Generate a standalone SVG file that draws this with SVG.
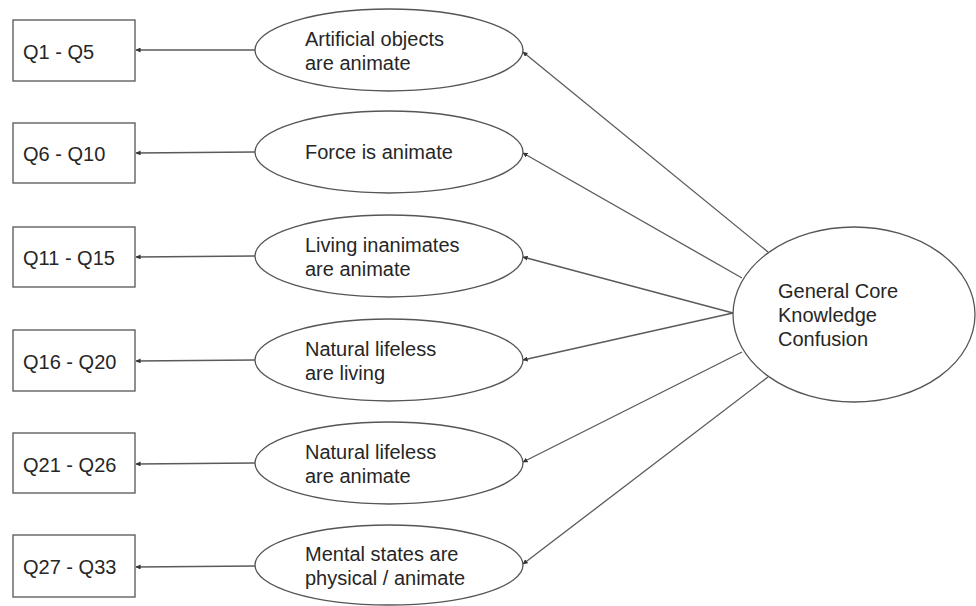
<svg xmlns="http://www.w3.org/2000/svg" width="976" height="606" viewBox="0 0 976 606">
<defs>
<marker id="ah" viewBox="0 0 6 6" refX="5.5" refY="3" markerWidth="5" markerHeight="5" markerUnits="userSpaceOnUse" orient="auto">
<path d="M0,0 L6,3 L0,6 z" fill="#333"/>
</marker>
<style>
.box{fill:#fff;stroke:#555;stroke-width:1.3}
.ell{fill:#fff;stroke:#555;stroke-width:1.3}
.lbl{font-family:"Liberation Sans",Arial,sans-serif;font-size:20px;fill:#262626}
.con{fill:none;stroke:#5a5a5a;stroke-width:1.3;marker-end:url(#ah)}
</style>
</defs>
<rect width="976" height="606" fill="#fff"/>
<g id="connectors">
<line class="con" x1="255" y1="50" x2="136" y2="50"/>
<line class="con" x1="255" y1="152" x2="136" y2="153"/>
<line class="con" x1="255" y1="256" x2="136" y2="257"/>
<line class="con" x1="255" y1="360" x2="136" y2="361"/>
<line class="con" x1="255" y1="463" x2="136" y2="464"/>
<line class="con" x1="255" y1="566" x2="136" y2="567"/>
<line class="con" x1="768" y1="252" x2="523" y2="52"/>
<line class="con" x1="742" y1="278" x2="523" y2="153"/>
<line class="con" x1="733" y1="313" x2="523" y2="257"/>
<line class="con" x1="733" y1="313" x2="523" y2="360"/>
<line class="con" x1="742" y1="352" x2="523" y2="462"/>
<line class="con" x1="768" y1="377" x2="523" y2="564"/>
</g>
<g id="q1"><rect class="box" x="13" y="20" width="122" height="61"/><text class="lbl" x="23" y="59">Q1 - Q5</text></g>
<g id="q6"><rect class="box" x="13" y="123" width="122" height="60"/><text class="lbl" x="23" y="161">Q6 - Q10</text></g>
<g id="q11"><rect class="box" x="13" y="227" width="122" height="60"/><text class="lbl" x="23" y="265">Q11 - Q15</text></g>
<g id="q16"><rect class="box" x="13" y="330" width="122" height="61"/><text class="lbl" x="23" y="369">Q16 - Q20</text></g>
<g id="q21"><rect class="box" x="13" y="433" width="122" height="60"/><text class="lbl" x="23" y="472">Q21 - Q26</text></g>
<g id="q27"><rect class="box" x="13" y="535" width="122" height="62"/><text class="lbl" x="23" y="574">Q27 - Q33</text></g>
<g id="e1"><ellipse class="ell" cx="389" cy="50" rx="134" ry="41"/><text class="lbl" x="305" y="46">Artificial objects</text><text class="lbl" x="305" y="70">are animate</text></g>
<g id="e2"><ellipse class="ell" cx="389" cy="152" rx="134" ry="41"/><text class="lbl" x="305" y="159">Force is animate</text></g>
<g id="e3"><ellipse class="ell" cx="389" cy="256" rx="134" ry="41"/><text class="lbl" x="305" y="252">Living inanimates</text><text class="lbl" x="305" y="276">are animate</text></g>
<g id="e4"><ellipse class="ell" cx="389" cy="360" rx="134" ry="41"/><text class="lbl" x="305" y="356">Natural lifeless</text><text class="lbl" x="305" y="380">are living</text></g>
<g id="e5"><ellipse class="ell" cx="389" cy="463" rx="134" ry="41"/><text class="lbl" x="305" y="459">Natural lifeless</text><text class="lbl" x="305" y="483">are animate</text></g>
<g id="e6"><ellipse class="ell" cx="389" cy="565" rx="134" ry="40"/><text class="lbl" x="305" y="561">Mental states are</text><text class="lbl" x="305" y="585">physical / animate</text></g>
<g id="general"><ellipse class="ell" cx="854" cy="314.5" rx="121" ry="87.5"/><text class="lbl" x="778" y="298">General Core</text><text class="lbl" x="778" y="322">Knowledge</text><text class="lbl" x="778" y="346">Confusion</text></g>
</svg>
